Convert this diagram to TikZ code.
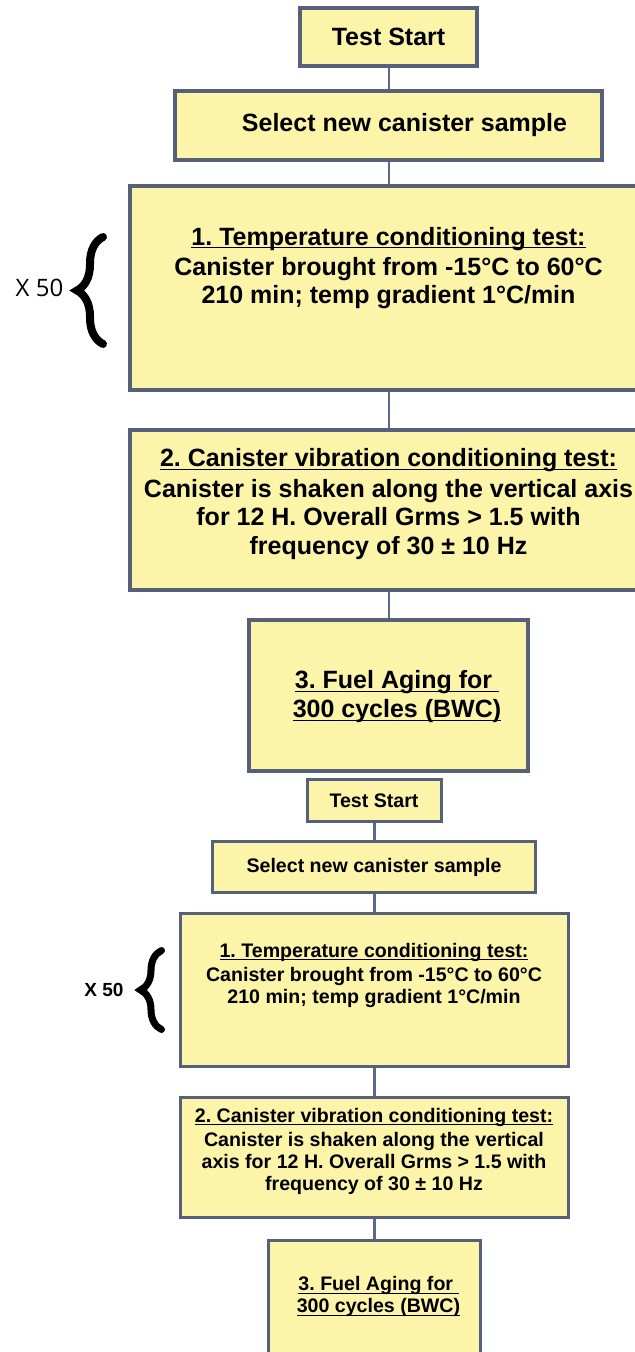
\documentclass[tikz,border=0pt]{standalone}
\usepackage{fontspec}
\setmainfont{Liberation Sans}
\newfontfamily\xfont{Open Sans}
\usetikzlibrary{decorations.pathreplacing}
\definecolor{pale}{HTML}{FCF4A8}
\definecolor{edge}{HTML}{56607A}
\definecolor{wire}{HTML}{5A6A8C}
\newcommand{\uln}[1]{\underline{\raisebox{0pt}[\height][0pt]{#1}}}
\frenchspacing

\begin{document}
\begin{tikzpicture}[x=0.5pt,y=-0.5pt,
    boxa/.style={draw=edge,fill=pale,line width=2pt,inner sep=0pt,align=center,font=\bfseries\fontsize{12.5}{14.2}\selectfont},
    boxb/.style={draw=edge,fill=pale,line width=1.5pt,inner sep=0pt,align=center,font=\bfseries\fontsize{9.8}{11}\selectfont},
    txa/.style={inner sep=0pt,align=center,font=\bfseries\fontsize{12.5}{14.2}\selectfont},
    txb/.style={inner sep=0pt,align=center,font=\bfseries\fontsize{9.8}{11}\selectfont},
    link/.style={draw=wire,line width=1pt},
    linkb/.style={draw=wire,line width=1.5pt},
    brca/.style={decorate,decoration={brace,amplitude=13pt},line width=4pt,line cap=round},
    brcb/.style={decorate,decoration={brace,amplitude=10.5pt},line width=3.5pt,line cap=round}]
    \useasboundingbox(0,0)rectangle(635,1352);
    \clip(0,0)rectangle(635,1352);
    % first chart
    \node[boxa,minimum width=88.5pt,minimum height=29pt](ts1)at(388.5,37){Test Start};
    \node[boxa,minimum width=213.5pt,minimum height=34.5pt](sel1)at(388.5,125.5){\hspace*{16pt}Select new canister sample};
    \node[boxa,minimum width=258.5pt,minimum height=102pt](tc1)at(388.5,288){};
    \node[txa](tc1t)at(388.5,268){\uln{1. Temperature conditioning test:}\\[1pt]Canister brought from -15°C to 60°C\\210 min; temp gradient 1°C/min};
    \node[boxa,minimum width=258.5pt,minimum height=80pt](vb1)at(388.5,510){};
    \node[txa](vb1t)at(388.5,504){\uln{2. Canister vibration conditioning test:}\\[1pt]Canister is shaken along the vertical axis\\for 12 H. Overall Grms > 1.5 with\\frequency of 30 ± 10 Hz};
    \node[boxa,minimum width=139.5pt,minimum height=75.5pt](fa1)at(388.5,695.5){};
    \node[txa](fa1t)at(397,696){\uln{3. Fuel Aging for\ }\\\uln{300 cycles (BWC)}};
    \draw[link](ts1.south)--(sel1.north);
    \draw[link](sel1.south)--(tc1.north);
    \draw[link](tc1.south)--(vb1.north);
    \draw[link](vb1.south)--(fa1.north);
    \node[font=\xfont\fontsize{12}{14}\selectfont](xa)at(39.5,288){X 50};
    \draw[brca](103,344)--(103,237);
    % second chart
    \node[boxb,minimum width=67pt,minimum height=21pt](ts2)at(374,800.5){Test Start};
    \node[boxb,minimum width=161.5pt,minimum height=25.5pt](sel2)at(374,867){Select new canister sample};
    \node[boxb,minimum width=194pt,minimum height=76.5pt](tc2)at(374,990){};
    \node[txb](tc2t)at(374,975){\uln{1. Temperature conditioning test:}\\[1pt]Canister brought from -15°C to 60°C\\210 min; temp gradient 1°C/min};
    \node[boxb,minimum width=194pt,minimum height=60pt](vb2)at(374,1157.5){};
    \node[txb](vb2t)at(374,1151){\uln{2. Canister vibration conditioning test:}\\[1pt]Canister is shaken along the vertical\\axis for 12 H. Overall Grms > 1.5 with\\frequency of 30 ± 10 Hz};
    \node[boxb,minimum width=106pt,minimum height=60pt](fa2)at(374,1300.5){};
    \node[txb](fa2t)at(378.5,1296){\uln{3. Fuel Aging for\ }\\\uln{300 cycles (BWC)}};
    \draw[linkb](ts2.south)--(sel2.north);
    \draw[linkb](sel2.south)--(tc2.north);
    \draw[linkb](tc2.south)--(vb2.north);
    \draw[linkb](vb2.south)--(fa2.north);
    \node[font=\bfseries\fontsize{9.5}{11}\selectfont](xb)at(104,990){X 50};
    \draw[brcb](161.5,1029.5)--(161.5,950.5);
\end{tikzpicture}
\end{document}
